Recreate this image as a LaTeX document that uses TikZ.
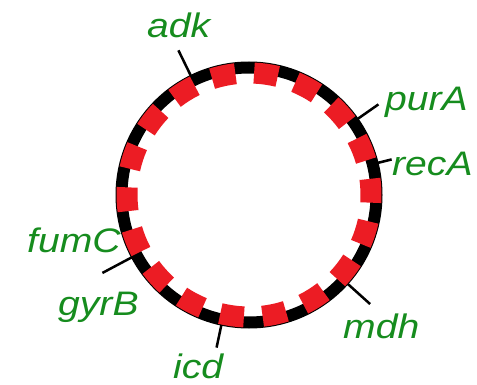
\documentclass[tikz,border=0pt]{standalone}
\usepackage{fontspec}
\setmainfont[FakeStretch=1.15]{Liberation Sans}
\usetikzlibrary{calc}
\definecolor{GeneGreen}{RGB}{22,140,30}
\definecolor{RingRed}{RGB}{236,28,36}

\begin{document}
\begin{tikzpicture}[x=1pt, y=1pt, font=\fontsize{34}{40}\selectfont\itshape]
        \useasboundingbox (0,0) rectangle (477,384);
        % Chromosome ring
        \coordinate (c) at (249,189);
        \draw[black, line width=12pt] (c) circle (127.5);
        \foreach \a in {2,22,...,342} {
            \draw[RingRed, line width=21pt] ([shift={(\a-5.6:122)}]c) arc[start angle=\a-5.6, end angle=\a+5.6, radius=122];
        }
        % Gene ticks
        \foreach \ang/\len/\nm in {116/161/adk, 35/158/purA, 14/147/recA, 208/166/gyrB, 258/156/icd, -42/163/mdh} {
            \coordinate (\nm-in) at ($(c)+(\ang:133)$);
            \coordinate (\nm-out) at ($(c)+(\ang:\len)$);
            \draw[black, line width=2.5pt] (\nm-in) -- (\nm-out);
        }
        % Gene labels
        \node[GeneGreen, anchor=base west, inner sep=0pt] (adk) at (147,347) {adk};
        \node[GeneGreen, anchor=base west, inner sep=0pt] (purA) at (385,274) {purA};
        \node[GeneGreen, anchor=base west, inner sep=0pt] (recA) at (392,209) {recA};
        \node[GeneGreen, anchor=base west, inner sep=0pt] (fumC) at (27,132) {fumC};
        \node[GeneGreen, anchor=base west, inner sep=0pt] (gyrB) at (58,69) {gyrB};
        \node[GeneGreen, anchor=base west, inner sep=0pt] (icd) at (173,6) {icd};
        \node[GeneGreen, anchor=base west, inner sep=0pt] (mdh) at (343,46) {mdh};
    \end{tikzpicture}
\end{document}
